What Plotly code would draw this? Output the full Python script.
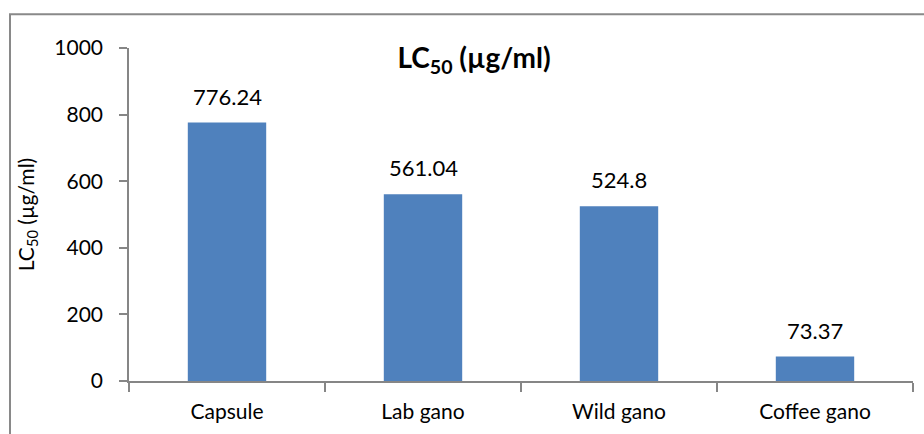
import plotly.graph_objects as go

categories = ["Capsule", "Lab gano", "Wild gano", "Coffee gano"]
values = [776.24, 561.04, 524.8, 73.37]
labels = ["776.24", "561.04", "524.8", "73.37"]
y_ticks = [0, 200, 400, 600, 800, 1000]

FONT = "Lato, Carlito, Calibri, sans-serif"

fig = go.Figure()
fig.add_trace(go.Bar(
    x=categories, y=values,
    marker=dict(color="#4F81BD", line=dict(width=0)),
    width=0.4,
    hoverinfo="x+y",
))

annotations = [
    dict(x=c, y=v, xref="x", yref="y", text=t, showarrow=False,
         yanchor="bottom", yshift=11,
         font=dict(family=FONT, size=22, color="#000000"))
    for c, v, t in zip(categories, values, labels)
]

fig.update_layout(
    width=924, height=434,
    margin=dict(l=129, r=11, t=48, b=51),
    paper_bgcolor="white", plot_bgcolor="white",
    showlegend=False,
    font=dict(family=FONT, size=21, color="#000000"),
    title=dict(
        text="<b>LC<sub>50</sub> (µg/ml)</b>",
        x=474 / 924, xanchor="center",
        y=1 - 58 / 434, yanchor="middle",
        font=dict(family=FONT, size=28, color="#000000"),
    ),
    xaxis=dict(
        type="category",
        showline=True, linecolor="#868686", linewidth=1.5,
        ticks="outside", tickson="boundaries", ticklen=9, tickcolor="#868686",
        tickwidth=1.5,
        showgrid=False,
        ticklabelstandoff=11,
        tickfont=dict(family=FONT, size=21),
    ),
    yaxis=dict(
        range=[0, 1000], tickvals=y_ticks, ticktext=[str(v) for v in y_ticks],
        showline=True, linecolor="#868686", linewidth=1.5,
        ticks="outside", ticklen=8, tickcolor="#868686", tickwidth=1.5,
        showgrid=False, zeroline=False,
        ticklabelstandoff=12,
        tickfont=dict(family=FONT, size=21),
        title=dict(text="LC<sub>50</sub> (µg/ml)", font=dict(family=FONT, size=21), standoff=14),
    ),
    annotations=annotations,
    shapes=[dict(
        type="rect", xref="paper", yref="paper",
        x0=(10 - 129) / 784, x1=(940 - 129) / 784,
        y0=-0.3, y1=1 + (48 - 14) / 335,
        line=dict(color="#898989", width=2), fillcolor="rgba(0,0,0,0)",
        layer="below",
    )],
)

fig.write_html("out.html")
